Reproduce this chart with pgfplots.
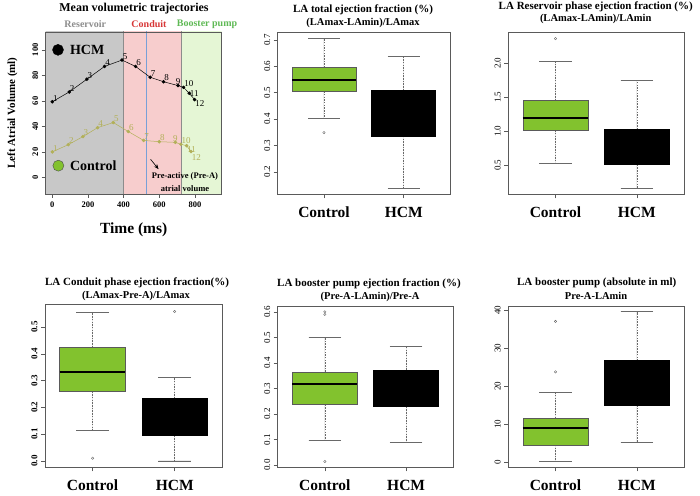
\documentclass[border=0pt]{standalone}
\usepackage{pgfplots}
\pgfplotsset{compat=1.18}
\usepgfplotslibrary{statistics}
\usetikzlibrary{arrows.meta}
\usepackage{fontspec}
\setmainfont{Liberation Serif}
\definecolor{ctrlgreen}{RGB}{130,194,46}
\definecolor{framegray}{RGB}{90,90,90}
\definecolor{whiskgray}{RGB}{105,105,105}
\definecolor{olivec}{RGB}{178,176,88}
\definecolor{regiongray}{RGB}{200,200,200}
\definecolor{regionpink}{RGB}{247,205,205}
\definecolor{regiongreen}{RGB}{229,246,213}
\definecolor{conduitred}{RGB}{215,55,55}
\definecolor{boostergreen}{RGB}{95,185,85}
\definecolor{resgray}{RGB}{140,140,140}
\definecolor{linblue}{RGB}{120,160,215}

\pgfplotsset{
  bpaxis/.style={
    scale only axis,
    anchor=south west,
    axis on top,
    axis line style={framegray, line width=0.8pt},
    xmin=0.42, xmax=2.58,
    xtick={1,2}, xticklabels={Control,HCM},
    xticklabel style={font=\fontsize{15.5}{16}\selectfont\bfseries, yshift=-5pt},
    tick align=outside,
    xtick pos=bottom, ytick pos=left,
    major tick length=4pt,
    tick style={framegray, line width=0.6pt},
    yticklabel style={rotate=90, anchor=south, font=\fontsize{9}{9}\selectfont},
    /pgf/number format/assume math mode=true,
    /pgf/number format/.cd, fixed, fixed zerofill, precision=1, /pgfplots/.cd,
    boxplot/draw direction=y,
    boxplot/box extend=0.8,
    boxplot/whisker extend=0.4,
    boxplot/every median/.style={black, line width=1.8pt},
    boxplot/draw/lower whisker/.code={%
      \draw[whiskgray, dash pattern=on 1.5pt off 1.2pt, line width=0.5pt]
        (boxplot cs:\pgfplotsboxplotvalue{lower quartile}) -- (boxplot cs:\pgfplotsboxplotvalue{lower whisker});
      \draw[whiskgray, line width=0.7pt, solid]
        (boxplot whisker cs:\pgfplotsboxplotvalue{lower whisker},0) -- (boxplot whisker cs:\pgfplotsboxplotvalue{lower whisker},1);
    },
    boxplot/draw/upper whisker/.code={%
      \draw[whiskgray, dash pattern=on 1.5pt off 1.2pt, line width=0.5pt]
        (boxplot cs:\pgfplotsboxplotvalue{upper quartile}) -- (boxplot cs:\pgfplotsboxplotvalue{upper whisker});
      \draw[whiskgray, line width=0.7pt, solid]
        (boxplot whisker cs:\pgfplotsboxplotvalue{upper whisker},0) -- (boxplot whisker cs:\pgfplotsboxplotvalue{upper whisker},1);
    },
  },
  ctrlbox/.style={fill=ctrlgreen, draw=framegray, line width=0.7pt, mark=o, mark size=1.2pt, mark options={whiskgray, line width=0.4pt, solid, fill=none}},
  hcmbox/.style={fill=black, draw=black, line width=0.7pt, mark=o, mark size=1.2pt, mark options={whiskgray, line width=0.4pt, solid, fill=none}},
}

\begin{document}
\begin{tikzpicture}
\path[use as bounding box] (0,0) rectangle (700pt,495pt);

% ---------------- Panel 1: trajectories
\begin{axis}[
  scale only axis, anchor=south west, at={(45.7pt,301pt)},
  width=176pt, height=162pt,
  xmin=-37, xmax=950, ymin=-13, ymax=114,
  axis on top,
  axis line style={framegray, line width=0.8pt},
  tick align=outside, xtick pos=bottom, ytick pos=left,
  major tick length=4pt, tick style={framegray, line width=0.6pt},
  xtick={0,200,400,600,800}, ytick={0,20,40,60,80,100},
  /pgf/number format/assume math mode=true,
  xticklabel style={font=\fontsize{8.5}{9}\selectfont\bfseries},
  yticklabel style={rotate=90, anchor=south, font=\fontsize{8.5}{9}\selectfont\bfseries},
  xlabel={Time (ms)}, ylabel={Left Atrial Volume (ml)},
  xlabel style={font=\fontsize{15.5}{16}\selectfont\bfseries, yshift=-9pt},
  ylabel style={font=\fontsize{11}{12}\selectfont\bfseries, yshift=8pt},
  clip=true,
]
\addplot[fill=regiongray, draw=none] coordinates {(-60,-30) (400,-30) (400,130) (-60,130)};
\addplot[fill=regionpink, draw=none] coordinates {(400,-30) (721,-30) (721,130) (400,130)};
\addplot[fill=regiongreen, draw=none] coordinates {(721,-30) (1000,-30) (1000,130) (721,130)};
\addplot[resgray, line width=0.6pt] coordinates {(400,-30) (400,130)};
\addplot[resgray, line width=0.6pt] coordinates {(721,-30) (721,130)};
\addplot[linblue, line width=0.8pt] coordinates {(529,-30) (529,130)};

\addplot[black, line width=0.5pt, mark=*, mark size=1.5pt,
  nodes near coords, point meta=explicit symbolic,
  visualization depends on={value \thisrow{anc} \as \myanc},
  every node near coord/.append style={anchor=\myanc, inner sep=0.5pt, black, font=\fontsize{9}{10}\selectfont}]
  table[meta=lab, row sep=\\] {x y lab anc\\
  0 59.3 1 {south west}\\ 95 67 2 {south west}\\ 194 77 3 {south west}\\ 293 87 4 {south west}\\ 391 92 5 {south west}\\ 467 87 6 {south west}\\
  549 78.5 7 {south west}\\ 624 75 8 {south west}\\ 705 72 9 {south}\\ 736 70.6 10 {south west}\\ 768 66 11 {west}\\ 798 61 12 {north west}\\};

\addplot[olivec, line width=0.5pt, mark=*, mark size=1.5pt,
  nodes near coords, point meta=explicit symbolic,
  visualization depends on={value \thisrow{anc} \as \myanc},
  visualization depends on={\thisrow{dy} \as \mydy},
  every node near coord/.append style={anchor=\myanc, yshift=\mydy pt, inner sep=0.5pt, olivec, font=\fontsize{9}{10}\selectfont}]
  table[meta=lab, row sep=\\] {x y lab anc dy\\
  0 20 1 {south west} 0\\ 90 25.7 2 {south west} 0\\ 172 32 3 {south west} 0\\ 254 39 4 {south west} 0\\ 342 43 5 {south west} 0\\ 426 36 6 {south west} 0\\
  512 29 7 {south west} 0\\ 600 28 8 {south west} 0\\ 690 27.5 9 {south} 0\\ 721 26 10 {south west} 0\\ 753 24.9 11 {north west} 0\\ 778 20.3 12 {north west} -2\\};

\addplot[only marks, mark=*, mark size=5.5pt, black] coordinates {(32,100)};
\addplot[only marks, mark=*, mark size=5.5pt, mark options={fill=ctrlgreen, draw=black!70}] coordinates {(34,9.2)};
\node[anchor=west, font=\fontsize{14}{14}\selectfont\bfseries] at (axis cs:80,100) {HCM};
\node[anchor=west, font=\fontsize{14}{14}\selectfont\bfseries] at (axis cs:80,9.2) {Control};

\draw[black, line width=0.6pt, -{Stealth[length=5pt,width=4pt]}] (axis cs:551,14.2) -- (axis cs:596,6.5);
\node[font=\fontsize{8.5}{9}\selectfont\bfseries, inner sep=0pt] at (axis cs:744,0.5) {Pre-active (Pre-A)};
\node[font=\fontsize{8.5}{9}\selectfont\bfseries, inner sep=0pt] at (axis cs:744,-8.7) {atrial volume};
\end{axis}

\node[font=\fontsize{12}{12}\selectfont\bfseries] at (134pt,486.7pt) {Mean volumetric trajectories};
\node[font=\fontsize{10}{10}\selectfont\bfseries, text=resgray] at (85.3pt,470.7pt) {Reservoir};
\node[font=\fontsize{10}{10}\selectfont\bfseries, text=conduitred] at (149pt,470.7pt) {Conduit};
\node[font=\fontsize{10}{10}\selectfont\bfseries, text=boostergreen, anchor=west, inner sep=0pt] at (176.7pt,470.7pt) {Booster pump};

% ---------------- Panel 2
\begin{axis}[bpaxis, at={(277.7pt,300.7pt)}, width=172.3pt, height=162pt,
  ymin=0.115, ymax=0.729, ytick={0.2,0.3,0.4,0.5,0.6,0.7}]
\addplot[ctrlbox, boxplot prepared={draw position=1, lower whisker=0.402, lower quartile=0.506, median=0.547, upper quartile=0.595, upper whisker=0.705}] coordinates {(0,0.349)};
\addplot[hcmbox, boxplot prepared={draw position=2, lower whisker=0.137, lower quartile=0.336, median=0.42, upper quartile=0.509, upper whisker=0.637}] coordinates {};
\end{axis}
\node[font=\fontsize{11}{11}\selectfont\bfseries] at (363pt,485pt) {LA total ejection fraction (\%)};
\node[font=\fontsize{10.5}{11}\selectfont\bfseries] at (363pt,472.3pt) {(LAmax-LAmin)/LAmax};

% ---------------- Panel 3
\begin{axis}[bpaxis, at={(508.3pt,300.7pt)}, width=175.7pt, height=162pt,
  ymin=0.074, ymax=2.456, ytick={0.5,1.0,1.5,2.0}]
\addplot[ctrlbox, boxplot prepared={draw position=1, lower whisker=0.525, lower quartile=1.015, median=1.196, upper quartile=1.456, upper whisker=2.025}] coordinates {(0,2.363)};
\addplot[hcmbox, boxplot prepared={draw position=2, lower whisker=0.157, lower quartile=0.51, median=0.8, upper quartile=1.03, upper whisker=1.75}] coordinates {};
\end{axis}
\node[font=\fontsize{11}{11}\selectfont\bfseries] at (595.7pt,487.7pt) {LA Reservoir phase ejection fraction (\%)};
\node[font=\fontsize{10.5}{11}\selectfont\bfseries] at (595.7pt,475.7pt) {(LAmax-LAmin)/LAmin};

% ---------------- Panel 4
\begin{axis}[bpaxis, at={(45pt,27.7pt)}, width=177.3pt, height=163pt,
  ymin=-0.024, ymax=0.585, ytick={0,0.1,0.2,0.3,0.4,0.5},
  yticklabel style={font=\fontsize{9}{9}\selectfont\bfseries}]
\addplot[ctrlbox, boxplot prepared={draw position=1, lower whisker=0.113, lower quartile=0.259, median=0.333, upper quartile=0.424, upper whisker=0.555}] coordinates {(0,0.010)};
\addplot[hcmbox, boxplot prepared={draw position=2, lower whisker=0.0, lower quartile=0.0945, median=0.16, upper quartile=0.233, upper whisker=0.313}] coordinates {(0,0.558)};
\end{axis}
\node[font=\fontsize{11}{11}\selectfont\bfseries] at (137pt,212.7pt) {LA Conduit phase ejection fraction(\%)};
\node[font=\fontsize{10.5}{11}\selectfont\bfseries] at (136pt,199.3pt) {(LAmax-Pre-A)/LAmax};

% ---------------- Panel 5
\begin{axis}[bpaxis, at={(277.7pt,27.7pt)}, width=175.6pt, height=161.3pt,
  ymin=-0.009, ymax=0.624, ytick={0,0.1,0.2,0.3,0.4,0.5,0.6}]
\addplot[ctrlbox, boxplot prepared={draw position=1, lower whisker=0.097, lower quartile=0.237, median=0.319, upper quartile=0.365, upper whisker=0.5}] coordinates {(0,0.601) (0,0.591) (0,0.014)};
\addplot[hcmbox, boxplot prepared={draw position=2, lower whisker=0.089, lower quartile=0.229, median=0.3, upper quartile=0.373, upper whisker=0.464}] coordinates {};
\end{axis}
\node[font=\fontsize{11}{11}\selectfont\bfseries] at (369pt,211.7pt) {LA booster pump ejection fraction (\%)};
\node[font=\fontsize{10.5}{11}\selectfont\bfseries] at (370pt,198.3pt) {(Pre-A-LAmin)/Pre-A};

% ---------------- Panel 6
\begin{axis}[bpaxis, at={(508.3pt,27.7pt)}, width=175.7pt, height=161.3pt,
  ymin=-1.22, ymax=41.05, ytick={0,10,20,30,40},
  /pgf/number format/precision=0]
\addplot[ctrlbox, boxplot prepared={draw position=1, lower whisker=0.35, lower quartile=4.63, median=9.08, upper quartile=11.7, upper whisker=18.4}] coordinates {(0,37.0) (0,23.8)};
\addplot[hcmbox, boxplot prepared={draw position=2, lower whisker=5.4, lower quartile=15.1, median=20, upper quartile=26.7, upper whisker=39.6}] coordinates {};
\end{axis}
\node[font=\fontsize{11}{11}\selectfont\bfseries] at (596.7pt,211.7pt) {LA booster pump (absolute in ml)};
\node[font=\fontsize{10.5}{11}\selectfont\bfseries] at (596pt,199pt) {Pre-A-LAmin};
\end{tikzpicture}
\end{document}
